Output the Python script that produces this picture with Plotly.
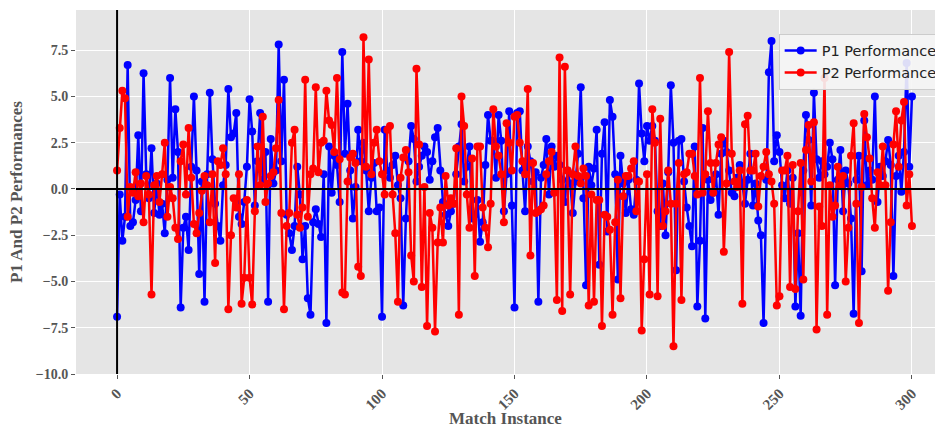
import plotly.graph_objects as go

p1 = [
    -6.9, -0.3, -2.8, -1.5, 6.7, -2.0, -1.8, -0.6, 2.9, -1.2,
    6.25, 0.8, -0.5, 2.2, -1.3, 0.3, -1.4, -0.8, -2.4, 0.5,
    6.0, 0.6, 4.3, 2.0, -6.4, -2.1, -1.5, -3.3, 1.2, 5.0,
    1.0, -4.6, 0.4, -6.1, 0.8, 5.2, 1.6, -0.8, -2.0, -2.8,
    0.2, 1.3, 5.4, 2.8, 3.0, 4.1, -1.5, -1.9, -0.7, 1.2,
    4.85, 3.1, -0.9, 1.5, 4.1, 0.5, 2.0, -6.1, 2.7, 0.3,
    1.0, 7.8, 1.5, 5.9, -1.4, -2.4, -3.3, -2.0, 1.2, -0.3,
    -3.8, -2.0, -5.9, -6.8, -1.8, -1.1, -1.9, -2.6, 0.8, -7.25,
    2.3, -0.2, 1.8, 1.3, -0.7, 7.4, 1.9, 4.6, 1.0, -1.6,
    0.1, 3.2, 1.5, 2.5, 1.0, -1.2, 0.6, 1.4, -1.2, -1.0,
    -6.9, 3.2, 1.0, 0.6, 1.3, 1.8, 0.2, -0.5, -6.3, -1.6,
    1.5, 3.4, 2.7, 0.4, 1.2, 1.8, 2.3, 2.0, 0.5, 1.5,
    2.8, 3.3, 1.0, -0.7, -1.4, -2.0, -1.2, -0.8, 0.8, 2.3,
    3.5, 0.4, 1.2, 2.3, -1.6, -1.4, -0.6, -2.85, -1.8, 1.3,
    4.0, 2.6, 2.6, 0.6, 4.0, 2.6, -1.2, 0.8, 4.2, -0.9,
    -6.4, 4.1, 4.2, 1.0, -1.2, 2.3, 1.5, 0.4, 0.9, -6.1,
    0.6, 1.3, 2.7, -0.3, 2.3, 1.2, 1.8, 1.3, 0.5, -0.7,
    1.0, 0.3, -1.3, 0.4, 1.9, 5.5, -0.5, -5.2, 1.2, 0.2,
    1.1, 3.2, -4.1, 1.9, 3.6, -2.3, 4.8, 3.9, 0.8, -4.9,
    1.8, 0.3, -1.3, 0.5, -1.1, -1.4, 0.5, 5.7, 3.0, 1.5,
    3.4, 2.6, 3.4, 2.6, -1.2, -2.0, 0.3, -2.5, 0.9, 5.6,
    2.5, -4.4, 2.6, 2.7, 0.4, -1.0, -2.0, -3.1, 2.3, -6.35,
    -2.8, 3.3, -7.0, 0.5, -0.6, -0.2, 0.8, -1.4, 1.9, 2.6,
    2.0, 1.0, -0.2, -0.4, 0.6, 1.3, 0.2, -0.8, 0.5, 1.9,
    -0.9, 0.3, -1.7, -2.5, -7.25, 0.5, 6.3, 8.0, 1.5, 2.9,
    2.0, 0.2, -0.5, 1.0, -0.8, 0.6, -6.35, -2.4, -6.85, 1.0,
    4.0, 2.65, -0.9, 5.2, 1.6, 0.6, 1.5, 0.8, 1.2, 2.5,
    1.6, -5.2, 0.5, 2.1, -1.2, 1.0, 0.3, -1.6, -6.75, 0.5,
    1.8, -4.45, 3.7, 0.2, 1.0, 0.5, 5.0, -0.7, 1.2, 0.7,
    1.5, 2.65, 1.3, -4.7, 0.7, 1.8, -0.15, 2.0, 6.8, 1.2,
    5.0,
]

p2 = [
    1.0, 3.3, 5.3, 4.9, -1.5, 0.1, -0.2, 0.9, -0.4, 0.3,
    -1.8, 0.7, -0.3, -5.7, 0.2, 0.7, -0.7, 0.8, 2.5, -1.5,
    0.1, -0.5, -2.1, -2.7, 1.5, 2.4, -0.3, 3.3, 0.6, -1.9,
    -2.4, -1.3, -0.1, 0.7, 0.2, -1.8, 0.8, -4.0, 1.5, 1.3,
    2.2, 0.8, -6.5, -2.5, -0.5, -1.0, 0.8, -6.2, -4.8, -0.6,
    -4.8, -6.25, -1.2, 2.3, 0.2, 3.9, -0.7, 0.3, 0.7, 0.9,
    2.2, 4.8, -1.3, -6.5, -2.0, -1.3, 2.5, 3.2, -1.4, -2.1,
    -1.0, 5.9, -1.5, 0.8, 1.1, 5.5, 0.9, 2.5, 2.6, 5.3,
    3.7, 3.45, 2.0, 6.0, 1.6, -5.6, -5.7, 0.4, 1.7, 1.9,
    1.4, -4.2, -4.7, 8.2, 1.2, 7.0, 0.8, 2.5, 3.2, 1.5,
    0.8, -0.3, 3.2, 3.4, -0.3, -2.4, -6.1, 0.6, 1.7, 2.1,
    0.9, -3.6, -5.0, 6.5, 2.4, -5.3, 0.1, -7.4, -1.3, -2.1,
    -7.7, -2.9, -1.0, -2.9, 0.7, -0.9, -0.5, -0.8, 2.2, -6.8,
    5.0, 3.4, -0.3, -2.1, 1.65, -4.7, 2.3, 2.3, -1.0, -2.1,
    -3.15, -0.8, 4.3, 2.3, 1.8, 0.8, -1.8, 3.55, 2.5, 1.0,
    3.9, 4.0, 2.5, 1.5, 0.8, 5.4, -3.6, 1.4, -1.3, -1.2,
    -1.1, -0.9, 0.8, 1.5, 2.0, -0.2, -6.0, 7.1, -6.6, 6.6,
    1.0, -5.7, 0.8, 2.3, 0.7, 0.3, 1.1, 0.7, -6.3, -0.3,
    -6.1, -0.6, -0.6, -7.4, -1.4, -1.5, -2.2, -6.8, -1.8, 0.5,
    -5.9, -0.4, 0.7, 0.7, 1.1, 1.5, -1.2, 0.4, -7.65, -3.8,
    0.8, -5.7, 4.3, 2.5, -5.8, 3.8, -2.0, -1.2, 1.0, -0.8,
    -8.5, -0.8, 1.4, -6.0, 0.8, 0.9, 1.9, 1.9, 0.7, -0.3,
    6.0, -0.2, 0.8, 4.2, 1.4, -0.2, 1.4, 2.4, 2.8, -3.4,
    0.3, 7.4, 1.9, 0.4, 0.1, 1.0, -6.2, 3.5, 3.95, 1.0,
    1.0, 1.9, -0.95, 0.7, 1.2, 2.0, 0.8, 0.4, -0.8, -6.3,
    -5.8, 1.0, 1.0, 1.8, -5.3, 1.3, -5.4, -1.2, 1.4, -4.9,
    2.1, 3.45, 0.4, 3.6, -7.6, -0.95, -2.0, 6.0, -6.8, 0.2,
    -1.5, -0.9, 1.2, 0.2, 0.7, -5.0, -2.1, 1.8, 3.55, -0.8,
    -7.25, 0.1, 4.05, 2.8, 1.65, -0.5, -2.1, 0.9, 0.2, 2.3,
    0.2, -5.5, -1.8, 2.4, 4.2, 1.2, 3.7, 4.7, -0.9, 0.8,
    -2.0,
]

matches = list(range(len(p1)))
x_ticks = [0, 50, 100, 150, 200, 250, 300]
y_ticks = [-10.0, -7.5, -5.0, -2.5, 0.0, 2.5, 5.0, 7.5]

serif_bold = dict(family="Liberation Serif", size=14, color="#555555", weight="bold")
serif_bold_x = dict(family="Liberation Serif", size=15, color="#555555", weight="bold")

fig = go.Figure()
fig.add_trace(go.Scatter(
    x=matches, y=p1, mode="lines+markers", name="P1 Performance",
    line=dict(color="#0000ff", width=2.5),
    marker=dict(color="#0000ff", size=8),
))
fig.add_trace(go.Scatter(
    x=matches, y=p2, mode="lines+markers", name="P2 Performance",
    line=dict(color="#ff0000", width=2.5),
    marker=dict(color="#ff0000", size=8),
))

fig.add_hline(y=0, line=dict(color="black", width=2))
fig.add_vline(x=0, line=dict(color="black", width=2))

fig.update_layout(
    width=935, height=428,
    margin=dict(l=76, r=0, t=10, b=54, autoexpand=False),
    paper_bgcolor="white",
    plot_bgcolor="#e5e5e5",
    showlegend=True,
    legend=dict(
        x=0.818, y=0.935, xanchor="left", yanchor="top",
        bgcolor="rgba(245,245,245,0.9)", bordercolor="#cccccc", borderwidth=1,
        font=dict(family="DejaVu Sans", size=14.5, color="#222222"),
        itemwidth=32, tracegroupgap=2,
    ),
    xaxis=dict(
        range=[-15.5, 308.7], tickvals=x_ticks, tickangle=-45,
        tickfont=serif_bold_x, showgrid=True, gridcolor="white", gridwidth=1,
        zeroline=False, showline=False, ticks="outside", ticklen=4, tickcolor="#555555",
        title=dict(text="Match Instance", font=dict(family="Liberation Serif", size=17, color="#555555", weight="bold"), standoff=4),
    ),
    yaxis=dict(
        range=[-10, 9.67], tickvals=y_ticks, tickformat=".1f",
        tickfont=serif_bold, showgrid=True, gridcolor="white", gridwidth=1,
        zeroline=False, showline=False, ticks="outside", ticklen=4, tickcolor="#555555",
        title=dict(text="P1 And P2 Performances", font=dict(family="Liberation Serif", size=17, color="#555555", weight="bold"), standoff=8),
    ),
)

fig.write_html("out.html")
